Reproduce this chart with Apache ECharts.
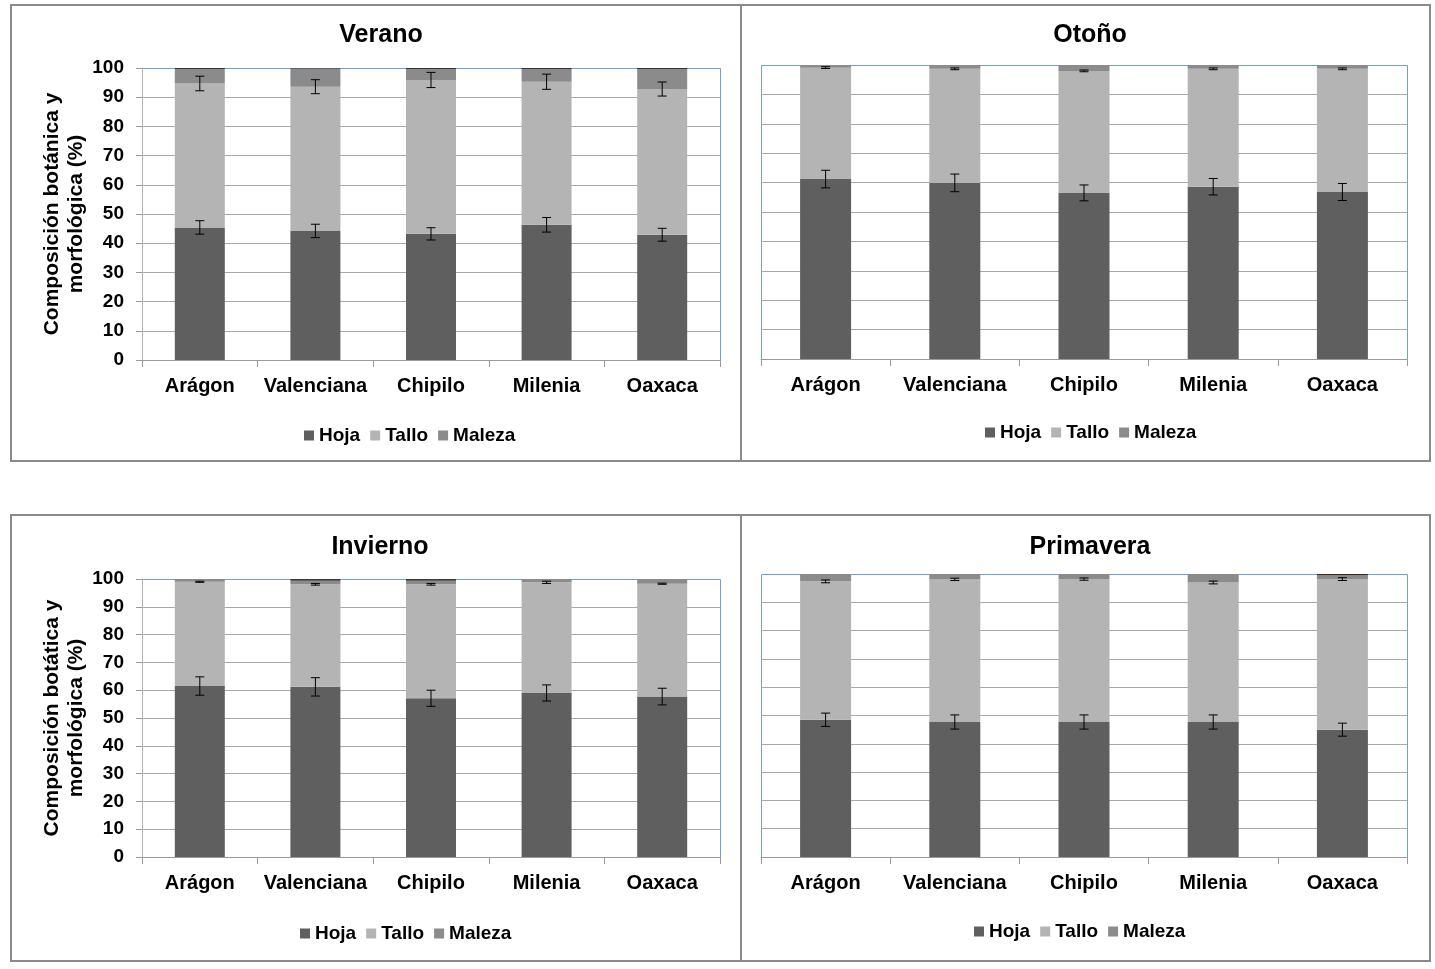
<!DOCTYPE html>
<html>
<head>
<meta charset="utf-8">
<script src="https://cdn.jsdelivr.net/npm/echarts@6/dist/echarts.min.js"></script>
<style>
html,body{margin:0;padding:0;background:#fff;}
#chart{width:1435px;height:969px;}
</style>
</head>
<body>
<div id="chart"></div>
<script>
// ---------- data ----------
const categories = ['Arágon', 'Valenciana', 'Chipilo', 'Milenia', 'Oaxaca'];
const yTickMin = 0, yTickMax = 100, yTickStep = 10;
const seriesNames = ['Hoja', 'Tallo', 'Maleza'];

const panelTitles = ['Verano', 'Otoño', 'Invierno', 'Primavera'];
const yNameTop = 'Composición botánica y\nmorfológica (%)';
const yNameBottom = 'Composición botática y\nmorfológica (%)';

// Verano
const hojaVerano   = [45.4, 44.2, 43.2, 46.3, 42.9];
const talloVerano  = [49.3, 49.4, 52.7, 49.0, 49.9];
const malezaVerano = [5.0, 6.2, 3.8, 4.3, 6.8];
const otroVerano   = [0.3, 0.2, 0.3, 0.4, 0.4];
const errHojaVerano  = [2.3, 2.3, 2.1, 2.5, 2.2];
const errTalloVerano = [2.5, 2.4, 2.6, 2.6, 2.4];

// Otoño
const hojaOtono   = [61.2, 59.9, 56.5, 58.6, 56.8];
const talloOtono  = [37.9, 38.8, 41.5, 40.1, 41.9];
const malezaOtono = [0.9, 1.3, 2.0, 1.3, 1.3];
const otroOtono   = [0, 0, 0, 0, 0];
const errHojaOtono  = [3.0, 3.0, 2.7, 2.8, 2.9];
const errTalloOtono = [0.3, 0.3, 0.3, 0.3, 0.3];

// Invierno
const hojaInvierno   = [61.5, 61.2, 57.1, 59.0, 57.7];
const talloInvierno  = [37.5, 36.9, 41.0, 39.8, 40.6];
const malezaInvierno = [1.0, 1.3, 1.3, 1.2, 1.7];
const otroInvierno   = [0, 0.6, 0.6, 0, 0];
const errHojaInvierno  = [3.3, 3.3, 2.9, 2.9, 3.0];
const errTalloInvierno = [0.2, 0.3, 0.3, 0.4, 0.2];

// Primavera
const hojaPrimavera   = [48.5, 47.7, 47.7, 47.7, 45.0];
const talloPrimavera  = [48.9, 50.4, 50.5, 49.3, 53.2];
const malezaPrimavera = [2.6, 1.9, 1.8, 3.0, 1.4];
const otroPrimavera   = [0, 0, 0, 0, 0.4];
const errHojaPrimavera  = [2.35, 2.5, 2.5, 2.5, 2.3];
const errTalloPrimavera = [0.5, 0.4, 0.4, 0.5, 0.5];

// ---------- styling / layout ----------
const FONT = "'Liberation Sans', Arial, Helvetica, sans-serif";
const colors = { Hoja: '#5f5f5f', Tallo: '#b4b4b4', Maleza: '#8b8b8b', Otro: '#333333' };

const panels = [
  { data: [hojaVerano, talloVerano, malezaVerano, otroVerano], err: [errHojaVerano, errTalloVerano],
    grid: { left: 142, top: 68, width: 578, height: 292 }, yLabels: true, yName: yNameTop,
    title: { x: 376, y: 18 }, legend: { left: 299, top: 421 }, barWidth: 50, otroColor: '#333333' },
  { data: [hojaOtono, talloOtono, malezaOtono, otroOtono], err: [errHojaOtono, errTalloOtono],
    grid: { left: 761, top: 65, width: 646, height: 294 }, yLabels: false,
    title: { x: 1085, y: 18 }, legend: { left: 980, top: 418 }, barWidth: 51, otroColor: '#333333' },
  { data: [hojaInvierno, talloInvierno, malezaInvierno, otroInvierno], err: [errHojaInvierno, errTalloInvierno],
    grid: { left: 142, top: 579, width: 578, height: 278 }, yLabels: true, yName: yNameBottom,
    title: { x: 375, y: 530 }, legend: { left: 295, top: 919 }, barWidth: 50, otroColor: '#3a3a3a' },
  { data: [hojaPrimavera, talloPrimavera, malezaPrimavera, otroPrimavera], err: [errHojaPrimavera, errTalloPrimavera],
    grid: { left: 761, top: 574, width: 646, height: 283 }, yLabels: false,
    title: { x: 1085, y: 530 }, legend: { left: 969, top: 917 }, barWidth: 51, otroColor: '#3b2a1f' }
];

function errRender(params, api) {
  const x = api.value(0), c = api.value(1), e = api.value(2);
  const t = api.coord([x, c + e]);
  const b = api.coord([x, c - e]);
  const h = 4.5;
  const st = { stroke: '#000', lineWidth: 1 };
  return {
    type: 'group',
    children: [
      { type: 'line', shape: { x1: t[0], y1: t[1], x2: b[0], y2: b[1] }, style: st },
      { type: 'line', shape: { x1: t[0] - h, y1: t[1], x2: t[0] + h, y2: t[1] }, style: st },
      { type: 'line', shape: { x1: b[0] - h, y1: b[1], x2: b[0] + h, y2: b[1] }, style: st }
    ]
  };
}

const option = {
  animation: false,
  backgroundColor: '#ffffff',
  textStyle: { fontFamily: FONT },
  title: [], legend: [], grid: [], xAxis: [], yAxis: [], series: [],
  graphic: [
    { type: 'rect', shape: { x: 11, y: 5, width: 730, height: 456 }, style: { fill: 'none', stroke: '#8a8a8a', lineWidth: 2 } },
    { type: 'rect', shape: { x: 741, y: 5, width: 689, height: 456 }, style: { fill: 'none', stroke: '#8a8a8a', lineWidth: 2 } },
    { type: 'rect', shape: { x: 11, y: 515, width: 730, height: 446 }, style: { fill: 'none', stroke: '#8a8a8a', lineWidth: 2 } },
    { type: 'rect', shape: { x: 741, y: 515, width: 689, height: 446 }, style: { fill: 'none', stroke: '#8a8a8a', lineWidth: 2 } }
  ]
};

panels.forEach((p, i) => {
  // light-blue plot-area frame, drawn beneath the axes
  option.graphic.push({
    type: 'rect', z: -10, silent: true,
    shape: { x: p.grid.left + 0.5, y: p.grid.top + 0.5, width: p.grid.width, height: p.grid.height },
    style: { fill: 'none', stroke: '#6f9fd6', lineWidth: 1 }
  });
  option.title.push({
    text: panelTitles[i], left: p.title.x, top: p.title.y, textAlign: 'center',
    textStyle: { fontFamily: FONT, fontSize: 25, fontWeight: 'bold', color: '#000' }
  });
  option.legend.push({
    data: seriesNames, left: p.legend.left, top: p.legend.top, icon: 'rect',
    itemWidth: 10, itemHeight: 10, itemGap: 10, selectedMode: false,
    textStyle: { fontFamily: FONT, fontSize: 19, fontWeight: 'bold', color: '#000' }
  });
  option.grid.push(Object.assign({ show: false }, p.grid));
  option.xAxis.push({
    type: 'category', gridIndex: i, data: categories, z: 5,
    axisLine: { show: true, lineStyle: { color: '#9a9a9a', width: 1 } },
    axisTick: { show: true, length: 7, lineStyle: { color: '#9a9a9a' } },
    axisLabel: { interval: 0, margin: 16, fontFamily: FONT, fontSize: 20, fontWeight: 'bold', color: '#000' },
    splitLine: { show: false }
  });
  option.yAxis.push({
    type: 'value', gridIndex: i, min: yTickMin, max: yTickMax, interval: yTickStep,
    name: p.yLabels ? p.yName : '', nameLocation: 'middle', nameGap: 54, nameRotate: 90,
    nameTextStyle: { fontFamily: FONT, fontSize: 21, fontWeight: 'bold', color: '#000', lineHeight: 24 },
    axisLine: { show: p.yLabels, lineStyle: { color: '#b0b0b0' } },
    axisTick: { show: p.yLabels, length: 6, lineStyle: { color: '#9a9a9a' } },
    axisLabel: { show: p.yLabels, margin: 18, fontFamily: FONT, fontSize: 19, fontWeight: 'bold', color: '#000' },
    splitLine: { show: true, showMaxLine: false, showMinLine: false, lineStyle: { color: '#a9a9a9', width: 1 } }
  });
  const names = ['Hoja', 'Tallo', 'Maleza', 'Otro'];
  names.forEach((n, k) => {
    option.series.push({
      name: n, type: 'bar', stack: 'panel' + i, xAxisIndex: i, yAxisIndex: i,
      barWidth: p.barWidth, data: p.data[k],
      itemStyle: { color: n === 'Otro' ? p.otroColor : colors[n] },
      emphasis: { disabled: true }
    });
  });
  const hoja = p.data[0], tallo = p.data[1];
  const errData = [];
  categories.forEach((c, j) => {
    errData.push([j, hoja[j], p.err[0][j]]);
    errData.push([j, hoja[j] + tallo[j], p.err[1][j]]);
  });
  option.series.push({
    type: 'custom', xAxisIndex: i, yAxisIndex: i, z: 10,
    renderItem: errRender, data: errData, silent: true
  });
});

const chart = echarts.init(document.getElementById('chart'), null, { renderer: 'canvas' });
chart.setOption(option);
</script>
</body>
</html>
